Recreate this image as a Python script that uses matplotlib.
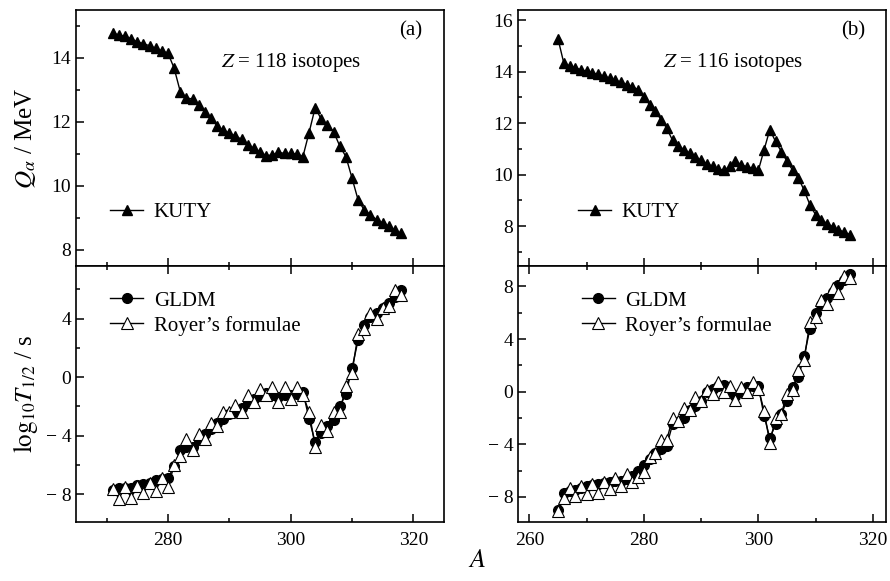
import matplotlib
matplotlib.use("Agg")
import matplotlib.pyplot as plt
from matplotlib.ticker import MultipleLocator, FuncFormatter

plt.rcParams['font.family'] = ['Liberation Serif', 'DejaVu Serif']
plt.rcParams['mathtext.fontset'] = 'stix'

# Z = 118 isotopes
A118 = list(range(271, 319))
Q118 = [14.77, 14.72, 14.68, 14.60, 14.50, 14.45, 14.38, 14.30, 14.22, 14.15,
        13.68, 12.95, 12.75, 12.72, 12.53, 12.32, 12.12, 11.88, 11.75, 11.65,
        11.56, 11.46, 11.28, 11.18, 11.07, 10.95, 10.97, 11.05, 11.02, 11.02,
        11.00, 10.92, 11.67, 12.45, 12.08, 11.90, 11.70, 11.25, 10.92, 10.25,
        9.56, 9.25, 9.10, 8.95, 8.85, 8.75, 8.62, 8.52]
gldm118 = [-7.70, -7.55, -7.60, -7.55, -7.40, -7.30, -7.20, -7.05, -6.95, -6.90,
           -6.10, -5.00, -4.80, -4.75, -4.30, -3.90, -3.55, -3.15, -2.85, -2.50,
           -2.35, -2.10, -1.75, -1.50, -1.30, -1.10, -1.20, -1.35, -1.25, -1.25,
           -1.15, -1.00, -2.85, -4.45, -3.80, -3.35, -2.90, -2.00, -1.15, 0.60,
           2.55, 3.60, 4.10, 4.40, 4.75, 5.10, 5.45, 5.95]
royer118 = [-7.64, -8.30, -7.51, -8.24, -7.42, -7.95, -7.20, -7.76, -6.91, -7.51,
            -6.02, -5.42, -4.24, -4.98, -3.91, -4.24, -3.13, -3.36, -2.36, -2.40,
            -1.91, -2.40, -1.24, -1.69, -0.80, -1.24, -0.64, -1.69, -0.69, -1.51,
            -0.69, -1.24, -2.36, -4.76, -3.24, -3.69, -2.40, -2.40, -0.62, 0.31,
            2.98, 3.31, 4.42, 3.98, 4.76, 4.87, 5.98, 5.64]

# Z = 116 isotopes
A116 = list(range(265, 317))
Q116 = [15.27, 14.34, 14.22, 14.15, 14.08, 14.02, 13.96, 13.90, 13.83, 13.75,
        13.67, 13.59, 13.50, 13.42, 13.30, 13.02, 12.72, 12.46, 12.14, 11.81,
        11.33, 11.13, 10.97, 10.84, 10.69, 10.56, 10.43, 10.32, 10.22, 10.17,
        10.32, 10.52, 10.39, 10.30, 10.26, 10.17, 10.97, 11.75, 11.29, 10.90,
        10.52, 10.17, 9.87, 9.39, 8.83, 8.44, 8.25, 8.10, 7.97, 7.86, 7.76, 7.67]
gldm116 = [-9.00, -7.66, -7.55, -7.46, -7.30, -7.15, -7.08, -7.02, -6.92, -6.83,
           -6.80, -6.75, -6.60, -6.42, -6.05, -5.59, -5.10, -4.69, -4.35, -4.09,
           -2.49, -2.30, -2.02, -1.40, -1.05, -0.72, -0.03, 0.23, 0.40, 0.49,
           -0.03, -0.29, 0.00, 0.36, 0.40, 0.41, -1.84, -3.52, -2.49, -1.71,
           -0.67, 0.36, 1.14, 2.69, 4.76, 6.00, 6.58, 7.09, 7.61, 8.13, 8.52, 8.91]
royer116 = [-9.10, -8.10, -7.35, -7.92, -7.15, -7.79, -7.02, -7.66, -6.83, -7.40,
            -6.58, -7.15, -6.24, -6.89, -6.50, -6.11, -4.95, -4.69, -3.65, -3.65,
            -2.02, -2.23, -1.24, -1.40, -0.41, -0.72, 0.16, -0.21, 0.75, -0.03,
            0.41, -0.62, 0.36, -0.03, 0.75, 0.23, -1.45, -3.91, -1.97, -1.71,
            -0.16, 0.16, 1.66, 2.43, 5.28, 5.67, 6.96, 6.63, 7.87, 7.48, 8.78, 8.65]

panels = [
    dict(A=A118, Q=Q118, g=gldm118, r=royer118, xlim=(265, 325),
         qlim=(7.5, 15.5), tlim=(-9.9, 7.6), tag='(a)', Z='118', left=76),
    dict(A=A116, Q=Q116, g=gldm116, r=royer116, xlim=(258, 322.3),
         qlim=(6.45, 16.4), tlim=(-9.9, 9.55), tag='(b)', Z='116', left=518),
]

W, H = 890, 581
fig = plt.figure(figsize=(W / 100, H / 100), dpi=100)

top_px, mid_px, bot_px = 10, 266, 522


def minus_fmt(v, pos):
    if v < 0:
        return '\u2212 %g' % abs(v)
    return '%g' % v


def style(ax):
    for s in ax.spines.values():
        s.set_linewidth(1.2)
    ax.tick_params(which='both', direction='in', labelsize=14, width=1.1,
                   top=False, right=False)
    ax.tick_params(which='major', length=6)
    ax.tick_params(which='minor', length=3)


for i, p in enumerate(panels):
    x0 = p['left'] / W
    w = 368 / W
    ax1 = fig.add_axes([x0, 1 - mid_px / H, w, (mid_px - top_px) / H])
    ax2 = fig.add_axes([x0, 1 - bot_px / H, w, (bot_px - mid_px) / H],
                       sharex=ax1)

    ax1.plot(p['A'], p['Q'], '-', color='black', lw=1.0, marker='^',
             ms=7.5, mfc='black', mec='black', label='KUTY')
    ax2.plot(p['A'], p['g'], '-', color='black', lw=1.0, marker='o',
             ms=7, mfc='black', mec='black', label='GLDM')
    ax2.plot(p['A'], p['r'], '-', color='black', lw=1.0, marker='^',
             ms=8, mfc='white', mec='black', mew=0.8,
             label='Royer\u2019s formulae')

    ax1.set_xlim(*p['xlim'])
    ax1.set_ylim(*p['qlim'])
    ax2.set_ylim(*p['tlim'])
    for ax in (ax1, ax2):
        style(ax)
        ax.xaxis.set_major_locator(MultipleLocator(20))
        ax.xaxis.set_minor_locator(MultipleLocator(10))
    ax2.tick_params(axis='x', which='both', top=True)
    ax1.tick_params(axis='x', labelbottom=False)
    ax1.yaxis.set_major_locator(MultipleLocator(2))
    ax1.yaxis.set_minor_locator(MultipleLocator(1))
    ax2.yaxis.set_major_locator(MultipleLocator(4))
    ax2.yaxis.set_minor_locator(MultipleLocator(2))
    ax2.yaxis.set_major_formatter(FuncFormatter(minus_fmt))
    ax2.tick_params(axis='x', pad=7)

    ax1.text(0.91, 0.92, p['tag'], transform=ax1.transAxes, fontsize=15,
             ha='center', va='center')
    ax1.text(0.585, 0.795, r'$Z$ = %s isotopes' % p['Z'],
             transform=ax1.transAxes, fontsize=15, ha='center', va='center')

    ax1.legend(loc='center left', bbox_to_anchor=(0.07 if i == 0 else 0.14, 0.21),
               frameon=False, fontsize=15, handlelength=1.6, handletextpad=0.5,
               borderaxespad=0)
    ax2.legend(loc='center left', bbox_to_anchor=(0.07 if i == 0 else 0.15, 0.815),
               frameon=False, fontsize=15, handlelength=1.6, handletextpad=0.5,
               labelspacing=0.25, borderaxespad=0)

    if i == 0:
        ax1.set_ylabel(r'$Q_{\alpha}$ / MeV', fontsize=18, labelpad=10)
        ax2.set_ylabel(r'$\mathrm{log}_{10}T_{1/2}$ / s', fontsize=18,
                       labelpad=4)

fig.text(477 / W, 1 - 561 / H, r'$A$', fontsize=19, ha='center', va='center')

fig.savefig('out.png', dpi=100)
